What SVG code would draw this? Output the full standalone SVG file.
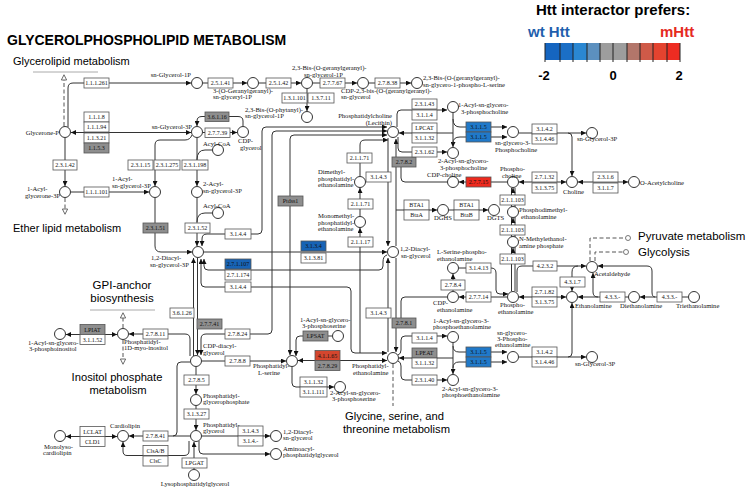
<svg xmlns="http://www.w3.org/2000/svg" width="748" height="488" viewBox="0 0 748 488">
<defs>
<style>
.c{fill:#fff;stroke:#333;stroke-width:1}
.b{fill:#fff;stroke:#555;stroke-width:.8}
.g{fill:#8e8e8e}
.u1{fill:#2079c9}
.u2{fill:#1763b5}
.r1{fill:#ee2a1e}
.r2{fill:#d4462e}
.e{font-family:"Liberation Serif","Times New Roman",serif;font-size:6px;text-anchor:middle;fill:#111}
.n{font-family:"Liberation Serif","Times New Roman",serif;font-size:6.6px;fill:#111}
.l{fill:none;stroke:#333;stroke-width:1}
.a{marker-end:url(#ah)}
.s{marker-start:url(#ah)}
.dl{fill:none;stroke:#555;stroke-width:1;stroke-dasharray:4 2.5}
.h{font-family:"Liberation Sans",Arial,sans-serif}
.k{fill:#fff;stroke:#555;stroke-width:.8}
.ul{stroke:#aaa;stroke-width:1}
</style>
<marker id="ah" viewBox="0 0 6 6" refX="6" refY="3" markerWidth="5" markerHeight="5" markerUnits="userSpaceOnUse" orient="auto-start-reverse"><path d="M0,0L6,3L0,6z" fill="#111"/></marker>
<marker id="tr" viewBox="0 0 8 8" refX="1" refY="4" markerWidth="7" markerHeight="7" markerUnits="userSpaceOnUse" orient="auto"><path d="M1,1L7,4L1,7z" fill="#fff" stroke="#555"/></marker>
</defs>
<rect width="748" height="488" fill="#fff"/>

<g id="titles">
<text class="h" x="7" y="45" font-size="14" font-weight="bold">GLYCEROLPHOSPHOLIPID METABOLISM</text>
<text class="h" x="13" y="65" font-size="11">Glycerolipid metabolism</text>
<line class="ul" x1="33" y1="72" x2="98" y2="72"/>
<text class="h" x="13" y="232" font-size="11">Ether lipid metabolism</text>
<text class="h" x="122" y="289" font-size="11.5" text-anchor="middle">GPI-anchor</text>
<text class="h" x="122" y="302" font-size="11.5" text-anchor="middle">biosynthesis</text>
<line class="ul" x1="90" y1="310" x2="155" y2="310"/>
<text class="h" x="117" y="381" font-size="11.2" text-anchor="middle">Inositol phosphate</text>
<text class="h" x="118" y="394" font-size="11.2" text-anchor="middle">metabolism</text>
<text class="h" x="345" y="420" font-size="11.2">Glycine, serine, and</text>
<text class="h" x="343" y="433" font-size="11.2">threonine metabolism</text>
<text class="h" x="638" y="240" font-size="11.5">Pyruvate metabolism</text>
<text class="h" x="638" y="256" font-size="11.5">Glycolysis</text>
</g>

<g id="legend">
<text class="h" x="536" y="15" font-size="15" font-weight="bold">Htt interactor prefers:</text>
<text class="h" x="528" y="37" font-size="15" font-weight="bold" fill="#1f5fad">wt Htt</text>
<text class="h" x="660" y="37" font-size="15" font-weight="bold" fill="#e52a22">mHtt</text>
<rect x="545" y="43" width="15" height="17" fill="#1565c0"/>
<rect x="560" y="43" width="13" height="17" fill="#1b6fc6"/>
<rect x="573" y="43" width="14" height="17" fill="#2a87d2"/>
<rect x="587" y="43" width="13" height="17" fill="#5c90bf"/>
<rect x="600" y="43" width="13" height="17" fill="#9d9d9d"/>
<rect x="613" y="43" width="14" height="17" fill="#9d9d9d"/>
<rect x="627" y="43" width="13" height="17" fill="#b3766a"/>
<rect x="640" y="43" width="13" height="17" fill="#cf5a48"/>
<rect x="653" y="43" width="14" height="17" fill="#e4432f"/>
<rect x="667" y="43" width="13" height="17" fill="#ee2c22"/>
<path d="M545,43V62M560,43V62M573,43V62M587,43V62M600,43V62M613,43V62M627,43V62M640,43V62M653,43V62M667,43V62M680,43V62" stroke="#222" stroke-width="1"/>
<text class="h" x="544" y="80" font-size="13" font-weight="bold" text-anchor="middle">-2</text>
<text class="h" x="613" y="80" font-size="13" font-weight="bold" text-anchor="middle">0</text>
<text class="h" x="679" y="80" font-size="13" font-weight="bold" text-anchor="middle">2</text>
</g>

<g id="connectors">
<path class="l a" d="M68,127V88Q68,83 73,83H191"/>
<path class="dl" d="M64,126V80" marker-end="url(#tr)"/>
<path class="l a" d="M203,83H247"/>
<path class="l a" d="M259,83H301"/>
<path class="l a" d="M313,83H357"/>
<path class="l a" d="M369,83H411"/>
<path class="l a" d="M307,89V111"/>
<path class="l a s" d="M71,132.5H191"/>
<path class="l a" d="M65,138V186"/>
<path class="l a" d="M71,192H149"/>
<path class="dl" d="M65,198V209" marker-end="url(#tr)"/>
<path class="l a" d="M192,135Q190,140 185,140H160Q155,140 155,145V186"/>
<path class="l a" d="M197,138V186"/>
<path class="l" d="M197,160Q197,150 205,150H212.5"/>
<path class="l a" d="M155,198V246Q155,252 161,252H192"/>
<path class="l a" d="M197,198V246"/>
<path class="l" d="M197,222Q197,213 205,213H212.5"/>
<path class="l a" d="M203,132.5H237"/>
<path class="l a" d="M243,126V121Q243,116.5 238,116.5H202Q197,116.5 197,121V126"/>
<path class="l a s" d="M202,246V239Q202,234 207,234H258Q262,234 262,230V131Q262,127 266,127H387"/>
<path class="l a s" d="M387,131H276Q272,131 272,135V330Q272,334 268,334H206Q201,334 201,339V355"/>
<path class="l a s" d="M387,135H294Q290,135 290,139V355"/>
<path class="l a" d="M332,336H300Q296,336 296,340V356"/>
<path class="l a s" d="M298,360.5H387"/>
<path class="l a" d="M292,367V383Q292,387 296,387H334"/>
<path class="l a" d="M202,361H286"/>
<path class="l a" d="M197.5,258V355"/>
<path class="l a" d="M193.5,356V258"/>
<path class="l a s" d="M201,259V283Q201,287 205,287H347Q351,287 351,291V349Q351,353 355,353H387"/>
<path class="l a" d="M387,255Q383,256 383,262V266Q383,270 379,270H208Q204,270 204,266V259"/>
<path class="l a" d="M204,252H387"/>
<path class="l a" d="M360,353V228"/>
<path class="l a" d="M360,216V188"/>
<path class="l a" d="M360,176V145Q360,140 365,140H388"/>
<path class="l a" d="M388,138V246"/>
<path class="l a" d="M396,246V139"/>
<path class="l" d="M447,182H405Q401,182 401,178V167"/>
<path class="l a" d="M396,258V352"/>
<path class="l" d="M447,297H405Q401,297 401,301V318"/>
<path class="l a" d="M388,352V258"/>
<path class="l a" d="M396,210H437"/>
<path class="l a" d="M449,210H488"/>
<path class="l a" d="M397,127V114Q397,110 401,110H447"/>
<path class="l s" d="M399,133H453"/>
<path class="l a" d="M398,137V148Q398,152 402,152H447"/>
<path class="l a" d="M453,113V147"/>
<path class="l a" d="M453,119Q453,127 460,127H507"/>
<path class="l a" d="M453,143Q453,137 460,137H507"/>
<path class="l a" d="M519,133H568Q572,133 572,137V176"/>
<path class="l a" d="M568,133H586"/>
<path class="l a" d="M507,182H459"/>
<path class="l a s" d="M519,182H566"/>
<path class="l a s" d="M578,182H628"/>
<path class="l" d="M511.5,188V291M515,188V291"/>
<path class="l a" d="M513,193V188"/>
<path class="l a" d="M513,223V218"/>
<path class="l a" d="M513,253V248"/>
<path class="l a" d="M507,297H459"/>
<path class="l a s" d="M519,297H566"/>
<path class="l a" d="M453,291V274"/>
<path class="l a" d="M459,268H491Q496,268 496,273V290Q496,294 500,294H508"/>
<path class="l a" d="M517,292V271Q517,266 522,266H586"/>
<path class="l a" d="M578,266Q572,266 572,272V291"/>
<path class="l a" d="M628,297H578"/>
<path class="l a" d="M598,297Q593,297 593,292V273"/>
<path class="l a" d="M688,297H640"/>
<path class="l a" d="M655,297Q652,297 652,292V271Q652,266 647,266H598"/>
<path class="dl" d="M590,261V238H625"/>
<path class="dl" d="M595,261V252H623"/>
<circle class="k" cx="628" cy="238" r="2.5"/>
<circle class="k" cx="626" cy="252" r="2.5"/>
<path class="l a" d="M519,357H568Q572,357 572,353V303"/>
<path class="l a" d="M568,357H586"/>
<path class="l a" d="M398,355Q401,354 401,350V340Q401,336 405,336H447"/>
<path class="l s" d="M399,358H453"/>
<path class="l a" d="M398,361Q401,362 401,366V376Q401,380 405,380H447"/>
<path class="l a" d="M453,343V374"/>
<path class="l a" d="M453,346Q453,352 459,352H507"/>
<path class="l a" d="M453,368Q453,362 459,362H507"/>
<path class="dl" d="M393,364V406"/>
<path class="l a" d="M190,356V339Q190,334 185,334H129"/>
<path class="l a s" d="M66,334.5H117"/>
<path class="dl" d="M123,328V318" marker-end="url(#tr)"/>
<path class="dl" d="M123,340V359" marker-end="url(#tr)"/>
<path class="l a" d="M196,367V394"/>
<path class="l a" d="M196,406V430"/>
<path class="l" d="M190,362H181Q177,362 177,366V432Q177,436 173,436"/>
<path class="l a" d="M190,436H129"/>
<path class="l a" d="M189,441V451Q189,455.5 184,455.5H127Q123,455.5 123,451V442"/>
<path class="l a s" d="M66,436.5H117"/>
<path class="l a" d="M202,436H270"/>
<path class="l a" d="M199,441V450Q199,454 203,454H270"/>
<path class="l a" d="M194,469V442"/>
</g>

<g id="enzymes">
<g id="ec-1.1.1.261"><rect class="b" x="84" y="78" width="25" height="10"/><text class="e" x="96.5" y="85.3">1.1.1.261</text></g>
<g id="ec-2.5.1.41"><rect class="b" x="208" y="78" width="25" height="10"/><text class="e" x="220.5" y="85.3">2.5.1.41</text></g>
<g id="ec-2.5.1.42"><rect class="b" x="266" y="78" width="25" height="10"/><text class="e" x="278.5" y="85.3">2.5.1.42</text></g>
<g id="ec-2.7.7.67"><rect class="b" x="320" y="78" width="25" height="10"/><text class="e" x="332.5" y="85.3">2.7.7.67</text></g>
<g id="ec-2.7.8.38"><rect class="b" x="375" y="78" width="25" height="10"/><text class="e" x="387.5" y="85.3">2.7.8.38</text></g>
<g id="ec-1.3.1.101"><rect class="b" x="282" y="93" width="25" height="10"/><text class="e" x="294.5" y="100.3">1.3.1.101</text></g>
<g id="ec-1.3.7.11"><rect class="b" x="308" y="93" width="26" height="10"/><text class="e" x="321" y="100.3">1.3.7.11</text></g>
<g id="ec-1.1.1.8"><rect class="b" x="84" y="112" width="25" height="10"/><text class="e" x="96.5" y="119.3">1.1.1.8</text></g>
<g id="ec-1.1.1.94"><rect class="b" x="84" y="122" width="25" height="10"/><text class="e" x="96.5" y="129.3">1.1.1.94</text></g>
<g id="ec-1.1.3.21"><rect class="b" x="84" y="133" width="25" height="10"/><text class="e" x="96.5" y="140.3">1.1.3.21</text></g>
<g id="ec-1.1.5.3"><rect class="b g" x="84" y="143" width="25" height="10"/><text class="e" x="96.5" y="150.3">1.1.5.3</text></g>
<g id="ec-3.6.1.16"><rect class="b g" x="205" y="112" width="24" height="9.5"/><text class="e" x="217" y="119">3.6.1.16</text></g>
<g id="ec-2.7.7.39"><rect class="b" x="205" y="128" width="25" height="9.5"/><text class="e" x="217.5" y="135">2.7.7.39</text></g>
<g id="ec-2.3.1.42"><rect class="b" x="53" y="160" width="24" height="10"/><text class="e" x="65" y="167.3">2.3.1.42</text></g>
<g id="ec-2.3.1.15"><rect class="b" x="128" y="160" width="25" height="10"/><text class="e" x="140.5" y="167.3">2.3.1.15</text></g>
<g id="ec-2.3.1.275"><rect class="b" x="154" y="160" width="26" height="10"/><text class="e" x="167" y="167.3">2.3.1.275</text></g>
<g id="ec-2.3.1.198"><rect class="b" x="182" y="160" width="26" height="10"/><text class="e" x="195" y="167.3">2.3.1.198</text></g>
<g id="ec-1.1.1.101"><rect class="b" x="84" y="187" width="25" height="10"/><text class="e" x="96.5" y="194.3">1.1.1.101</text></g>
<g id="ec-2.3.1.51"><rect class="b g" x="143" y="223" width="25" height="10"/><text class="e" x="155.5" y="230.3">2.3.1.51</text></g>
<g id="ec-2.3.1.52"><rect class="b" x="185" y="223" width="25" height="10"/><text class="e" x="197.5" y="230.3">2.3.1.52</text></g>
<g id="ec-3.1.4.4-a"><rect class="b" x="225" y="229" width="26" height="10"/><text class="e" x="238" y="236.3">3.1.4.4</text></g>
<g id="ec-2.7.1.107"><rect class="b u2" x="225" y="259" width="26" height="10"/><text class="e" x="238" y="266.3">2.7.1.107</text></g>
<g id="ec-2.7.1.174"><rect class="b" x="225" y="270" width="26" height="10"/><text class="e" x="238" y="277.3">2.7.1.174</text></g>
<g id="ec-3.1.4.4-b"><rect class="b" x="225" y="282" width="26" height="10"/><text class="e" x="238" y="289.3">3.1.4.4</text></g>
<g id="ec-ptdss1"><rect class="b g" x="278" y="196" width="25" height="10"/><text class="e" x="290.5" y="203.3">Ptdss1</text></g>
<g id="ec-3.1.3.4"><rect class="b u2" x="301" y="241" width="25" height="10"/><text class="e" x="313.5" y="248.3">3.1.3.4</text></g>
<g id="ec-3.1.3.81"><rect class="b" x="301" y="253" width="25" height="10"/><text class="e" x="313.5" y="260.3">3.1.3.81</text></g>
<g id="ec-2.1.1.71-a"><rect class="b" x="347" y="153" width="25" height="10"/><text class="e" x="359.5" y="160.3">2.1.1.71</text></g>
<g id="ec-2.1.1.71-b"><rect class="b" x="348" y="199" width="25" height="10"/><text class="e" x="360.5" y="206.3">2.1.1.71</text></g>
<g id="ec-2.1.1.17"><rect class="b" x="348" y="237" width="25" height="10"/><text class="e" x="360.5" y="244.3">2.1.1.17</text></g>
<g id="ec-3.1.4.3-a"><rect class="b" x="366" y="172" width="25" height="10"/><text class="e" x="378.5" y="179.3">3.1.4.3</text></g>
<g id="ec-3.1.4.3-b"><rect class="b" x="366" y="308" width="25" height="10"/><text class="e" x="378.5" y="315.3">3.1.4.3</text></g>
<g id="ec-2.7.8.2"><rect class="b g" x="392" y="157" width="24" height="10"/><text class="e" x="404" y="164.3">2.7.8.2</text></g>
<g id="ec-2.7.8.1"><rect class="b g" x="392" y="318" width="24" height="10"/><text class="e" x="404" y="325.3">2.7.8.1</text></g>
<g id="ec-2.3.1.43"><rect class="b" x="412" y="99" width="25" height="10"/><text class="e" x="424.5" y="106.3">2.3.1.43</text></g>
<g id="ec-3.1.1.4-a"><rect class="b" x="412" y="110" width="25" height="10"/><text class="e" x="424.5" y="117.3">3.1.1.4</text></g>
<g id="ec-lpcat"><rect class="b" x="412" y="123" width="25" height="10"/><text class="e" x="424.5" y="130.3">LPCAT</text></g>
<g id="ec-3.1.1.32-a"><rect class="b" x="412" y="133" width="25" height="10"/><text class="e" x="424.5" y="140.3">3.1.1.32</text></g>
<g id="ec-2.3.1.62"><rect class="b" x="412" y="147" width="25" height="10"/><text class="e" x="424.5" y="154.3">2.3.1.62</text></g>
<g id="ec-3.1.1.5-a"><rect class="b u1" x="466" y="122" width="25" height="10"/><text class="e" x="478.5" y="129.3">3.1.1.5</text></g>
<g id="ec-3.1.1.5-b"><rect class="b u1" x="466" y="132" width="25" height="10"/><text class="e" x="478.5" y="139.3">3.1.1.5</text></g>
<g id="ec-3.1.4.2-a"><rect class="b" x="532" y="124" width="25" height="10"/><text class="e" x="544.5" y="131.3">3.1.4.2</text></g>
<g id="ec-3.1.4.46-a"><rect class="b" x="532" y="134" width="25" height="10"/><text class="e" x="544.5" y="141.3">3.1.4.46</text></g>
<g id="ec-2.7.7.15"><rect class="b r1" x="466" y="177" width="25" height="10"/><text class="e" x="478.5" y="184.3">2.7.7.15</text></g>
<g id="ec-2.7.1.32"><rect class="b" x="532" y="172" width="25" height="10"/><text class="e" x="544.5" y="179.3">2.7.1.32</text></g>
<g id="ec-3.1.3.75-a"><rect class="b" x="532" y="183" width="25" height="10"/><text class="e" x="544.5" y="190.3">3.1.3.75</text></g>
<g id="ec-2.3.1.6"><rect class="b" x="593" y="172" width="25" height="10"/><text class="e" x="605.5" y="179.3">2.3.1.6</text></g>
<g id="ec-3.1.1.7"><rect class="b" x="593" y="183" width="25" height="10"/><text class="e" x="605.5" y="190.3">3.1.1.7</text></g>
<g id="ec-bta1-a"><rect class="b" x="404" y="200" width="25" height="10"/><text class="e" x="416.5" y="207.3">BTA1</text></g>
<g id="ec-btaa"><rect class="b" x="404" y="210" width="25" height="10"/><text class="e" x="416.5" y="217.3">BtaA</text></g>
<g id="ec-bta1-b"><rect class="b" x="454" y="200" width="25" height="10"/><text class="e" x="466.5" y="207.3">BTA1</text></g>
<g id="ec-btab"><rect class="b" x="454" y="210" width="25" height="10"/><text class="e" x="466.5" y="217.3">BtaB</text></g>
<g id="ec-2.1.1.103-a"><rect class="b" x="500" y="195" width="25" height="10"/><text class="e" x="512.5" y="202.3">2.1.1.103</text></g>
<g id="ec-2.1.1.103-b"><rect class="b" x="500" y="225" width="25" height="10"/><text class="e" x="512.5" y="232.3">2.1.1.103</text></g>
<g id="ec-2.1.1.103-c"><rect class="b" x="500" y="254" width="25" height="10"/><text class="e" x="512.5" y="261.3">2.1.1.103</text></g>
<g id="ec-3.1.4.13"><rect class="b" x="466" y="263" width="25" height="10"/><text class="e" x="478.5" y="270.3">3.1.4.13</text></g>
<g id="ec-2.7.8.4"><rect class="b" x="441" y="280" width="24" height="10"/><text class="e" x="453" y="287.3">2.7.8.4</text></g>
<g id="ec-4.2.3.2"><rect class="b" x="533" y="261" width="24" height="10"/><text class="e" x="545" y="268.3">4.2.3.2</text></g>
<g id="ec-4.3.1.7"><rect class="b" x="560" y="277" width="25" height="10"/><text class="e" x="572.5" y="284.3">4.3.1.7</text></g>
<g id="ec-2.7.7.14"><rect class="b" x="466" y="292" width="25" height="10"/><text class="e" x="478.5" y="299.3">2.7.7.14</text></g>
<g id="ec-2.7.1.82"><rect class="b" x="532" y="287" width="25" height="10"/><text class="e" x="544.5" y="294.3">2.7.1.82</text></g>
<g id="ec-3.1.3.75-b"><rect class="b" x="532" y="297" width="25" height="10"/><text class="e" x="544.5" y="304.3">3.1.3.75</text></g>
<g id="ec-4.3.3.-a"><rect class="b" x="600" y="292" width="25" height="10"/><text class="e" x="612.5" y="299.3">4.3.3.-</text></g>
<g id="ec-4.3.3.-b"><rect class="b" x="657" y="292" width="25" height="10"/><text class="e" x="669.5" y="299.3">4.3.3.-</text></g>
<g id="ec-3.1.4.2-b"><rect class="b" x="532" y="347" width="25" height="10"/><text class="e" x="544.5" y="354.3">3.1.4.2</text></g>
<g id="ec-3.1.4.46-b"><rect class="b" x="532" y="357" width="25" height="10"/><text class="e" x="544.5" y="364.3">3.1.4.46</text></g>
<g id="ec-3.1.1.5-c"><rect class="b u1" x="466" y="347" width="25" height="10"/><text class="e" x="478.5" y="354.3">3.1.1.5</text></g>
<g id="ec-3.1.1.5-d"><rect class="b u1" x="466" y="357" width="25" height="10"/><text class="e" x="478.5" y="364.3">3.1.1.5</text></g>
<g id="ec-3.1.1.4-b"><rect class="b" x="412" y="333" width="25" height="10"/><text class="e" x="424.5" y="340.3">3.1.1.4</text></g>
<g id="ec-lpeat"><rect class="b g" x="412" y="348" width="25" height="10"/><text class="e" x="424.5" y="355.3">LPEAT</text></g>
<g id="ec-3.1.1.32-b"><rect class="b" x="412" y="358" width="25" height="10"/><text class="e" x="424.5" y="365.3">3.1.1.32</text></g>
<g id="ec-2.3.1.40"><rect class="b" x="412" y="375" width="25" height="10"/><text class="e" x="424.5" y="382.3">2.3.1.40</text></g>
<g id="ec-lpsat"><rect class="b g" x="303" y="331" width="25" height="10"/><text class="e" x="315.5" y="338.3">LPSAT</text></g>
<g id="ec-4.1.1.65"><rect class="b r2" x="315" y="350.5" width="25" height="10"/><text class="e" x="327.5" y="357.8">4.1.1.65</text></g>
<g id="ec-2.7.8.29"><rect class="b g" x="315" y="360.5" width="25" height="10"/><text class="e" x="327.5" y="367.8">2.7.8.29</text></g>
<g id="ec-3.1.1.32-c"><rect class="b" x="300" y="377" width="27" height="10"/><text class="e" x="313.5" y="384.3">3.1.1.32</text></g>
<g id="ec-3.1.1.111"><rect class="b" x="300" y="387" width="27" height="10"/><text class="e" x="313.5" y="394.3">3.1.1.111</text></g>
<g id="ec-2.7.8.24"><rect class="b" x="225" y="329" width="25" height="10"/><text class="e" x="237.5" y="336.3">2.7.8.24</text></g>
<g id="ec-2.7.8.8"><rect class="b" x="225" y="356" width="25" height="10"/><text class="e" x="237.5" y="363.3">2.7.8.8</text></g>
<g id="ec-3.6.1.26"><rect class="b" x="170" y="308" width="24" height="10"/><text class="e" x="182" y="315.3">3.6.1.26</text></g>
<g id="ec-2.7.7.41"><rect class="b g" x="197" y="319" width="25" height="10"/><text class="e" x="209.5" y="326.3">2.7.7.41</text></g>
<g id="ec-2.7.8.11"><rect class="b" x="143" y="329" width="25" height="10"/><text class="e" x="155.5" y="336.3">2.7.8.11</text></g>
<g id="ec-lpiat"><rect class="b g" x="80" y="324.5" width="25" height="10"/><text class="e" x="92.5" y="331.8">LPIAT</text></g>
<g id="ec-3.1.1.52"><rect class="b" x="80" y="334.5" width="25" height="10"/><text class="e" x="92.5" y="341.8">3.1.1.52</text></g>
<g id="ec-2.7.8.5"><rect class="b" x="184" y="375" width="25" height="10"/><text class="e" x="196.5" y="382.3">2.7.8.5</text></g>
<g id="ec-3.1.3.27"><rect class="b" x="184" y="409" width="25" height="10"/><text class="e" x="196.5" y="416.3">3.1.3.27</text></g>
<g id="ec-3.1.4.3-c"><rect class="b" x="238" y="426" width="25" height="10"/><text class="e" x="250.5" y="433.3">3.1.4.3</text></g>
<g id="ec-3.1.4.-"><rect class="b" x="238" y="436" width="25" height="10"/><text class="e" x="250.5" y="443.3">3.1.4.-</text></g>
<g id="ec-2.7.8.41"><rect class="b" x="143" y="431" width="25" height="10"/><text class="e" x="155.5" y="438.3">2.7.8.41</text></g>
<g id="ec-clsab"><rect class="b" x="143" y="445.5" width="25" height="10"/><text class="e" x="155.5" y="452.8">ClsA/B</text></g>
<g id="ec-clsc"><rect class="b" x="143" y="456" width="25" height="10"/><text class="e" x="155.5" y="463.3">ClsC</text></g>
<g id="ec-lclat"><rect class="b" x="80" y="426.5" width="25" height="10"/><text class="e" x="92.5" y="433.8">LCLAT</text></g>
<g id="ec-cld1"><rect class="b" x="80" y="436.5" width="25" height="10"/><text class="e" x="92.5" y="443.8">CLD1</text></g>
<g id="ec-lpgat"><rect class="b" x="182" y="458" width="25" height="10"/><text class="e" x="194.5" y="465.3">LPGAT</text></g>
</g>

<g id="compounds">
<g id="c-glycerone-p"><circle class="c" cx="65" cy="132" r="5.5"/><text class="n" x="59" y="134.5" text-anchor="end">Glycerone-P</text></g>
<g id="c-sn-glycerol-1p"><circle class="c" cx="197" cy="83" r="5.5"/><text class="n" x="191" y="77" text-anchor="end">sn-Glycerol-1P</text></g>
<g id="c-ggg-glyceryl-1p"><circle class="c" cx="253" cy="83" r="5.5"/><text class="n" x="213" y="92.5">3-(O-Geranylgeranyl)-<tspan x="213" dy="6.5">sn-glyceryl-1P</tspan></text></g>
<g id="c-bis-ggg-glycerol-1p"><circle class="c" cx="307" cy="83" r="5.5"/><text class="n" x="292" y="70">2,3-Bis-(O-geranylgeranyl)-<tspan x="304" dy="6.5">sn-glycerol-1P</tspan></text></g>
<g id="c-cdp-bis"><circle class="c" cx="363" cy="83" r="5.5"/><text class="n" x="341" y="92.5">CDP-2,3-bis-(O-(geranylgeranyl)-<tspan x="341" dy="6.5">sn-glycerol</tspan></text></g>
<g id="c-bis-serine"><circle class="c" cx="417" cy="83" r="5.5"/><text class="n" x="423" y="80">2,3-Bis-(O-(geranylgeranyl)-<tspan x="423" dy="6.8">sn-glycero-1-phospho-L-serine</tspan></text></g>
<g id="c-bis-phytanyl"><circle class="c" cx="307" cy="117" r="5.5"/><text class="n" x="245" y="111.5">2,3-Bis-(O-phytanyl)-<tspan x="245" dy="6.5">sn-glycerol-1P</tspan></text></g>
<g id="c-sn-glycerol-3p"><circle class="c" cx="197" cy="132" r="5.5"/><text class="n" x="192" y="129" text-anchor="end">sn-Glycerol-3P</text></g>
<g id="c-cdp-glycerol"><circle class="c" cx="243" cy="132" r="5.5"/><text class="n" x="238" y="143">CDP-<tspan x="240" dy="6.5">glycerol</tspan></text></g>
<g id="c-acyl-coa-1"><circle class="c" cx="218" cy="150" r="5.5"/><text class="n" x="203" y="146">Acyl-CoA</text></g>
<g id="c-acyl-coa-2"><circle class="c" cx="218" cy="213" r="5.5"/><text class="n" x="203" y="208">Acyl-CoA</text></g>
<g id="c-1-acylglycerone-3p"><circle class="c" cx="65" cy="192" r="5.5"/><text class="n" x="27" y="191">1-Acyl-<tspan x="25" dy="6.5">glycerone-3P</tspan></text></g>
<g id="c-1-acyl-sn-glycerol-3p"><circle class="c" cx="155" cy="192" r="5.5"/><text class="n" x="112" y="181">1-Acyl-<tspan x="112" dy="6.5">sn-glycerol-3P</tspan></text></g>
<g id="c-2-acyl-sn-glycerol-3p"><circle class="c" cx="197" cy="192" r="5.5"/><text class="n" x="203" y="186">2-Acyl-<tspan x="203" dy="6.5">sn-glycerol-3P</tspan></text></g>
<g id="c-dag-3p"><circle class="c" cx="198" cy="252" r="5.5"/><text class="n" x="151" y="260">1,2-Diacyl-<tspan x="150" dy="6.5">sn-glycerol-3P</tspan></text></g>
<g id="c-pc"><circle class="c" cx="393" cy="132" r="5.5"/><text class="n" x="392" y="118" text-anchor="end">Phosphatidylcholine<tspan x="392" dy="6.5">(Lecithin)</tspan></text></g>
<g id="c-1-acyl-gpc"><circle class="c" cx="453" cy="107" r="5.5"/><text class="n" x="458" y="107">1-Acyl-sn-glycero-<tspan x="461" dy="6.5">3-phosphocholine</tspan></text></g>
<g id="c-2-acyl-gpc"><circle class="c" cx="453" cy="153" r="5.5"/><text class="n" x="438" y="163">2-Acyl-sn-glycero-<tspan x="440" dy="6.5">3-phosphocholine</tspan></text></g>
<g id="c-gpc"><circle class="c" cx="513" cy="132" r="5.5"/><text class="n" x="495" y="145">sn-glycero-3-<tspan x="495" dy="6.5">Phosphocholine</tspan></text></g>
<g id="c-sn-glycerol-3p-b"><circle class="c" cx="592" cy="133" r="5.5"/><text class="n" x="577" y="141">sn-Glycerol-3P</text></g>
<g id="c-dimethyl-pe"><circle class="c" cx="360" cy="182" r="5.5"/><text class="n" x="318" y="174">Dimethyl-<tspan x="318" dy="6.5">phosphatidyl-</tspan><tspan x="318" dy="6.5">ethanolamine</tspan></text></g>
<g id="c-monomethyl-pe"><circle class="c" cx="360" cy="222" r="5.5"/><text class="n" x="318" y="218">Monomethyl-<tspan x="318" dy="6.5">phosphatidyl-</tspan><tspan x="318" dy="6.5">ethanolamine</tspan></text></g>
<g id="c-cdp-choline"><circle class="c" cx="453" cy="182" r="5.5"/><text class="n" x="427" y="177">CDP-choline</text></g>
<g id="c-phosphocholine"><circle class="c" cx="513" cy="182" r="5.5"/><text class="n" x="500" y="171">Phospho-<tspan x="502" dy="6.5">choline</tspan></text></g>
<g id="c-choline"><circle class="c" cx="572" cy="182" r="5.5"/><text class="n" x="563" y="194">Choline</text></g>
<g id="c-o-acetylcholine"><circle class="c" cx="634" cy="182" r="5.5"/><text class="n" x="640" y="184.5">O-Acetylcholine</text></g>
<g id="c-dag"><circle class="c" cx="393" cy="252" r="5.5"/><text class="n" x="400" y="251">1,2-Diacyl-<tspan x="401" dy="6.5">sn-glycerol</tspan></text></g>
<g id="c-dghs"><circle class="c" cx="443" cy="210" r="5.5"/><text class="n" x="434" y="220">DGHS</text></g>
<g id="c-dgts"><circle class="c" cx="494" cy="210" r="5.5"/><text class="n" x="487" y="220">DGTS</text></g>
<g id="c-phosphodimethylethanolamine"><circle class="c" cx="513" cy="212" r="5.5"/><text class="n" x="519" y="212">Phosphodimethyl-<tspan x="521" dy="6.5">ethanolamine</tspan></text></g>
<g id="c-n-methylethanolamine-p"><circle class="c" cx="513" cy="242" r="5.5"/><text class="n" x="519" y="241">N-Methylethanol-<tspan x="519" dy="6.5">amine phosphate</tspan></text></g>
<g id="c-l-serine-pe"><circle class="c" cx="453" cy="268" r="5.5"/><text class="n" x="437" y="254">L-Serine-phospho-<tspan x="437" dy="6.5">ethanolamine</tspan></text></g>
<g id="c-cdp-ethanolamine"><circle class="c" cx="453" cy="297" r="5.5"/><text class="n" x="433" y="305">CDP-<tspan x="437" dy="6.5">ethanolamine</tspan></text></g>
<g id="c-phosphoethanolamine"><circle class="c" cx="513" cy="297" r="5.5"/><text class="n" x="500" y="307">Phospho-<tspan x="498" dy="6.5">ethanolamine</tspan></text></g>
<g id="c-acetaldehyde"><circle class="c" cx="592" cy="267" r="5.5"/><text class="n" x="594" y="275.5">Acetaldehyde</text></g>
<g id="c-ethanolamine"><circle class="c" cx="572" cy="297" r="5.5"/><text class="n" x="575" y="308">Ethanolamine</text></g>
<g id="c-diethanolamine"><circle class="c" cx="634" cy="297" r="5.5"/><text class="n" x="620" y="308">Diethanolamine</text></g>
<g id="c-triethanolamine"><circle class="c" cx="694" cy="297" r="5.5"/><text class="n" x="676" y="308">Triethanolamine</text></g>
<g id="c-1-acyl-ps"><circle class="c" cx="338" cy="336" r="5.5"/><text class="n" x="300" y="322">1-Acyl-sn-glycero-<tspan x="302" dy="6.2">3-phosphoserine</tspan></text></g>
<g id="c-cdp-dag"><circle class="c" cx="196" cy="361" r="5.5"/><text class="n" x="203" y="348">CDP-diacyl-<tspan x="203" dy="6.5">glycerol</tspan></text></g>
<g id="c-ps"><circle class="c" cx="292" cy="361" r="5.5"/><text class="n" x="253" y="368">Phosphatidyl-<tspan x="258" dy="6.5">L-serine</tspan></text></g>
<g id="c-pe"><circle class="c" cx="393" cy="358" r="5.5"/><text class="n" x="352" y="368">Phosphatidyl-<tspan x="353" dy="6.5">ethanolamine</tspan></text></g>
<g id="c-1-acyl-gpe"><circle class="c" cx="453" cy="337" r="5.5"/><text class="n" x="433" y="323">1-Acyl-sn-glycero-3-<tspan x="433" dy="6.2">phosphoethanolamine</tspan></text></g>
<g id="c-2-acyl-gpe"><circle class="c" cx="453" cy="380" r="5.5"/><text class="n" x="442" y="391">2-Acyl-sn-glycero-3-<tspan x="442" dy="6.2">phosphoethanolamine</tspan></text></g>
<g id="c-gpe"><circle class="c" cx="513" cy="357" r="5.5"/><text class="n" x="497" y="335">sn-glycero-<tspan x="497" dy="6.2">3-Phospho-</tspan><tspan x="495" dy="6.2">ethanolamine</tspan></text></g>
<g id="c-sn-glycerol-3p-c"><circle class="c" cx="592" cy="357" r="5.5"/><text class="n" x="575" y="366">sn-Glycerol-3P</text></g>
<g id="c-2-acyl-ps"><circle class="c" cx="340" cy="387" r="5.5"/><text class="n" x="330" y="395">2-Acyl-sn-glycero-<tspan x="332" dy="6.2">3-phosphoserine</tspan></text></g>
<g id="c-1-acyl-pi"><circle class="c" cx="60" cy="334" r="5.5"/><text class="n" x="28" y="345">1-Acyl-sn-glycero-<tspan x="29" dy="6.2">3-phosphoinositol</tspan></text></g>
<g id="c-pi"><circle class="c" cx="123" cy="334" r="5.5"/><text class="n" x="124" y="344">Phosphatidyl-<tspan x="124" dy="6.2">1D-myo-inositol</tspan></text></g>
<g id="c-pgp"><circle class="c" cx="196" cy="400" r="5.5"/><text class="n" x="203" y="398">Phosphatidyl-<tspan x="203" dy="6.2">glycerophosphate</tspan></text></g>
<g id="c-pg"><circle class="c" cx="196" cy="436" r="5.5"/><text class="n" x="203" y="427">Phosphatidyl-<tspan x="203" dy="6.2">glycerol</tspan></text></g>
<g id="c-dag-b"><circle class="c" cx="276" cy="436" r="5.5"/><text class="n" x="283" y="434">1,2-Diacyl-<tspan x="283" dy="6.2">sn-glycerol</tspan></text></g>
<g id="c-aminoacyl-pg"><circle class="c" cx="276" cy="454" r="5.5"/><text class="n" x="283" y="451">Aminoacyl-<tspan x="283" dy="6.2">phosphatidylglycerol</tspan></text></g>
<g id="c-cardiolipin"><circle class="c" cx="123" cy="436" r="5.5"/><text class="n" x="110" y="428">Cardiolipin</text></g>
<g id="c-monolysocardiolipin"><circle class="c" cx="60" cy="436" r="5.5"/><text class="n" x="44" y="449">Monolyso-<tspan x="43" dy="6.2">cardiolipin</tspan></text></g>
<g id="c-lysopg"><circle class="c" cx="194" cy="475" r="5.5"/><text class="n" x="195" y="486" text-anchor="middle">Lysophosphatidylglycerol</text></g>
</g>
</svg>
